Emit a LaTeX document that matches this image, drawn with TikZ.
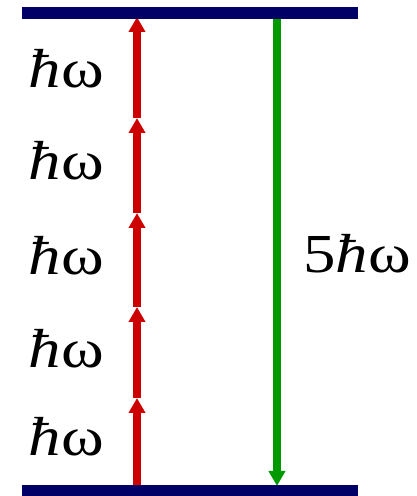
\documentclass[tikz,border=0pt]{standalone}
\usepackage{fontspec}
\setmainfont{Liberation Serif}
\usepackage{tikz}
\usetikzlibrary{arrows.meta}
\definecolor{levelblue}{RGB}{0, 0, 102}
\definecolor{photonred}{RGB}{204, 0, 0}
\definecolor{emitgreen}{RGB}{0, 153, 0}
\newcommand{\stretchtext}[1]{\scalebox{1.18}[1]{#1}}

\begin{document}
\begin{tikzpicture}[x=1pt, y=1pt, font=\fontsize{55}{60}\selectfont,
  hw/.style={anchor=base east, inner sep=0pt},
  up/.style={-{Triangle[width=16pt,length=15pt]}, line width=8pt, photonred},
  down/.style={-{Triangle[width=16pt,length=15pt]}, line width=8pt, emitgreen}]
\useasboundingbox (0,0) rectangle (417,496);

% levels
\coordinate (gl) at (22,5.5);
\coordinate (gr) at (358,5.5);
\coordinate (el) at (22,483);
\coordinate (er) at (358,483);

% stops on the red ladder
\coordinate (r0) at (137,11);
\coordinate (r1) at (137,98);
\coordinate (r2) at (137,189);
\coordinate (r3) at (137,283);
\coordinate (r4) at (137,378);
\coordinate (r5) at (137,479);

\coordinate (g0) at (277,477);
\coordinate (g1) at (277,10);

\draw[up] (r0) -- (r1);
\draw[up] (r1) -- (r2);
\draw[up] (r2) -- (r3);
\draw[up] (r3) -- (r4);
\draw[up] (r4) -- (r5);
\draw[down] (g0) -- (g1);

\draw[line width=11pt, levelblue] (gl) -- (gr);
\draw[line width=12pt, levelblue] (el) -- (er);

\node[hw] (q1) at (104,41) {\stretchtext{\textit{ħ}ω}};
\node[hw] (q2) at (104,128) {\stretchtext{\textit{ħ}ω}};
\node[hw] (q3) at (104,221) {\stretchtext{\textit{ħ}ω}};
\node[hw] (q4) at (104,316) {\stretchtext{\textit{ħ}ω}};
\node[hw] (q5) at (104,408) {\stretchtext{\textit{ħ}ω}};
\node[anchor=base west, inner sep=0pt] (sum) at (303,223) {\stretchtext{5\textit{ħ}ω}};
\end{tikzpicture}
\end{document}
